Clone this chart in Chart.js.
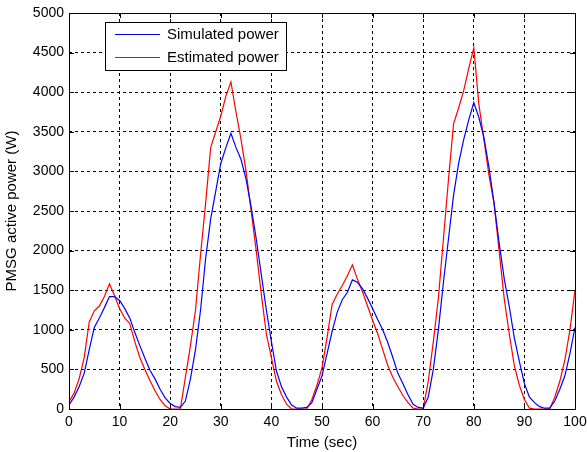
<!DOCTYPE html>
<html><head><meta charset="utf-8">
<script src="https://cdn.jsdelivr.net/npm/chart.js@4/dist/chart.umd.min.js"></script>
<style>html,body{margin:0;padding:0;background:#fff;}canvas{display:block;}</style>
</head><body>
<canvas id="c" width="587" height="452"></canvas>
<script>
const times = [0,1,2,3,4,5,6,7,8,9,10,11,12,13,14,15,16,17,18,19,20,21,22,23,24,25,26,27,28,29,30,31,32,33,34,35,36,37,38,39,40,41,42,43,44,45,46,47,48,49,50,51,52,53,54,55,56,57,58,59,60,61,62,63,64,65,66,67,68,69,70,71,72,73,74,75,76,77,78,79,80,81,82,83,84,85,86,87,88,89,90,91,92,93,94,95,96,97,98,99,100];
const simulatedPower = [50,150,280,450,750,1030,1150,1280,1420,1420,1370,1270,1150,970,800,640,490,380,250,140,70,30,20,100,380,750,1250,1900,2400,2750,3100,3300,3480,3300,3150,2900,2550,2150,1700,1250,850,480,280,150,50,10,10,20,80,250,420,700,980,1220,1380,1470,1630,1600,1520,1400,1270,1130,1000,840,650,450,320,180,60,20,10,150,500,1000,1600,2150,2700,3100,3400,3650,3870,3680,3430,3050,2600,2100,1650,1300,900,600,320,150,80,30,10,10,100,250,420,700,1030];
const estimatedPower = [90,200,380,650,1100,1240,1300,1420,1580,1430,1270,1150,1080,850,650,500,360,230,120,40,0,0,0,400,800,1250,1950,2600,3300,3500,3700,3950,4130,3750,3400,3000,2500,2000,1450,950,650,350,180,60,0,0,0,0,120,300,520,900,1320,1450,1560,1680,1820,1640,1480,1300,1120,950,750,550,400,280,170,80,10,0,0,350,850,1400,2150,2900,3600,3800,4020,4300,4560,3850,3400,2950,2600,2000,1400,950,550,300,120,10,0,0,0,0,150,350,620,1000,1500];
const seriesNames = ['Simulated power','Estimated power'];
const seriesColors = ['#0000ff','#ff0000'];
const xTitle = 'Time (sec)';
const yTitle = 'PMSG active power (W)';
const FONT = 'Liberation Sans, Arial, sans-serif';

const toPts = arr => times.map((t,i)=>({x:t,y:arr[i]}));

const framePlugin = {
  id:'frame',
  afterDraw(chart){
    const {ctx, chartArea:a, scales} = chart;
    ctx.save();
    ctx.strokeStyle='#000'; ctx.lineWidth=1; ctx.setLineDash([]);
    ctx.strokeRect(Math.round(a.left)+0.5, Math.round(a.top)+0.5, Math.round(a.right-a.left), Math.round(a.bottom-a.top));
    const tl=5;
    ctx.beginPath();
    scales.x.ticks.forEach(t=>{const px=Math.round(scales.x.getPixelForValue(t.value))+0.5;
      ctx.moveTo(px,a.bottom);ctx.lineTo(px,a.bottom-tl);ctx.moveTo(px,a.top);ctx.lineTo(px,a.top+tl);});
    scales.y.ticks.forEach(t=>{const py=Math.round(scales.y.getPixelForValue(t.value))+0.5;
      ctx.moveTo(a.left,py);ctx.lineTo(a.left+tl,py);ctx.moveTo(a.right,py);ctx.lineTo(a.right-tl,py);});
    ctx.stroke();
    const lx=105.5, ly=22.5, lw=181, lh=48;
    ctx.fillStyle='#fff'; ctx.fillRect(lx,ly,lw,lh);
    ctx.strokeStyle='#000'; ctx.strokeRect(lx,ly,lw,lh);
    ctx.font='15px '+FONT; ctx.textBaseline='middle'; ctx.textAlign='left';
    const rows=[34,57];
    seriesNames.forEach((n,i)=>{
      ctx.strokeStyle=seriesColors[i]; ctx.beginPath(); ctx.moveTo(115,rows[i]+0.5); ctx.lineTo(160,rows[i]+0.5); ctx.stroke();
      ctx.fillStyle='#000'; ctx.fillText(n,167,rows[i]+1);
    });
    ctx.restore();
  }
};

new Chart(document.getElementById('c'),{
  type:'line',
  data:{datasets:[
    {label:seriesNames[0],data:toPts(simulatedPower),borderColor:seriesColors[0],borderWidth:1.2,pointRadius:0,tension:0,fill:false},
    {label:seriesNames[1],data:toPts(estimatedPower),borderColor:seriesColors[1],borderWidth:1.2,pointRadius:0,tension:0,fill:false}
  ]},
  plugins:[framePlugin],
  options:{
    responsive:false, animation:false, devicePixelRatio:1,
    layout:{padding:{left:0,right:12,top:13,bottom:0}},
    plugins:{legend:{display:false},tooltip:{enabled:false}},
    scales:{
      x:{type:'linear',min:0,max:100,
        ticks:{stepSize:10,color:'#000',font:{family:FONT,size:14},padding:5,maxRotation:0,callback:v=>String(v)},
        grid:{color:'#000',lineWidth:1,drawTicks:false},
        border:{display:false,dash:[3,3]},
        title:{display:true,text:xTitle,color:'#000',font:{family:FONT,size:15},padding:{top:0,bottom:0}},
        afterFit(s){s.height=43;s.paddingLeft=0;s.paddingRight=0;}
      },
      y:{type:'linear',min:0,max:5000,
        ticks:{stepSize:500,color:'#000',font:{family:FONT,size:14},padding:5,callback:v=>String(v)},
        grid:{color:'#000',lineWidth:1,drawTicks:false},
        border:{display:false,dash:[3,3]},
        title:{display:true,text:yTitle,color:'#000',font:{family:FONT,size:15},padding:{top:3,bottom:0}},
        afterFit(s){s.width=69;s.paddingTop=0;s.paddingBottom=0;}
      }
    }
  }
});
</script>
</body></html>
